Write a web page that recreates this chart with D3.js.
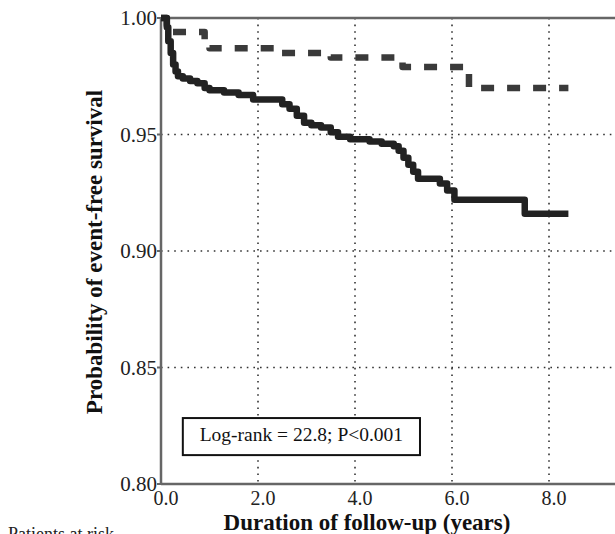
<!DOCTYPE html>
<html>
<head>
<meta charset="utf-8">
<script src="https://cdn.jsdelivr.net/npm/d3@7"></script>
<style>
  body { margin: 0; background: #fff; }
  svg { display: block; font-family: "Liberation Serif", "Times New Roman", serif; }
</style>
</head>
<body>
<svg width="615" height="534"></svg>
<script>
const width = 615, height = 534;
const svg = d3.select("svg");

// Kaplan-Meier steps
const solidTimes = [0, 0.12, 0.15, 0.2, 0.25, 0.3, 0.35, 0.45, 0.6, 0.75, 0.9, 1.0, 1.3, 1.6, 1.9, 2.5, 2.65, 2.8, 2.95, 3.1, 3.3, 3.5, 3.65, 3.9, 4.3, 4.55, 4.8, 4.9, 5.0, 5.1, 5.2, 5.3, 5.75, 5.9, 6.05, 7.5, 8.4];
const solidSurv  = [1.0, 0.996, 0.99, 0.985, 0.98, 0.977, 0.975, 0.974, 0.973, 0.972, 0.970, 0.969, 0.968, 0.967, 0.965, 0.963, 0.961, 0.958, 0.955, 0.954, 0.953, 0.951, 0.949, 0.948, 0.947, 0.946, 0.945, 0.943, 0.940, 0.937, 0.934, 0.931, 0.929, 0.926, 0.922, 0.916, 0.916];

const dashTimes = [0, 0.12, 0.2, 0.9, 1.0, 2.35, 3.5, 4.98, 6.35, 8.4];
const dashSurv  = [1.0, 0.997, 0.994, 0.990, 0.987, 0.985, 0.983, 0.979, 0.970, 0.970];

const xTicks = [0, 2, 4, 6, 8];
const yTicks = [0.80, 0.85, 0.90, 0.95, 1.00];
const gridX = [2, 4, 6, 8];
const gridY = [0.85, 0.90, 0.95];

const x = d3.scaleLinear().domain([0, 9.6]).range([161, 161 + 9.6 * 48.5]);
const y = d3.scaleLinear().domain([0.80, 1.00]).range([484, 18]);

// dotted grid
svg.append("g").selectAll("line.gx").data(gridX).enter().append("line")
    .attr("x1", d => x(d)).attr("x2", d => x(d))
    .attr("y1", y(1.0)).attr("y2", y(0.80))
    .attr("stroke", "#333").attr("stroke-width", 1.6).attr("stroke-dasharray", "1.6,5");
svg.append("g").selectAll("line.gy").data(gridY).enter().append("line")
    .attr("x1", x(0)).attr("x2", width)
    .attr("y1", d => y(d)).attr("y2", d => y(d))
    .attr("stroke", "#333").attr("stroke-width", 1.6).attr("stroke-dasharray", "1.6,5");

// frame
svg.append("line").attr("x1", x(0)).attr("x2", width).attr("y1", y(1.0)).attr("y2", y(1.0))
    .attr("stroke", "#666").attr("stroke-width", 2.5);
svg.append("line").attr("x1", x(0)).attr("x2", width).attr("y1", y(0.8)).attr("y2", y(0.8))
    .attr("stroke", "#666").attr("stroke-width", 2.5);
svg.append("line").attr("x1", x(0)).attr("x2", x(0)).attr("y1", y(1.0) - 1).attr("y2", y(0.8) + 1)
    .attr("stroke", "#666").attr("stroke-width", 2.5);

// y ticks and labels
svg.append("g").selectAll("line").data(yTicks).enter().append("line")
    .attr("x1", x(0) - 4).attr("x2", x(0)).attr("y1", d => y(d)).attr("y2", d => y(d))
    .attr("stroke", "#666").attr("stroke-width", 2);
svg.append("g").selectAll("text").data(yTicks).enter().append("text")
    .attr("x", 157).attr("y", d => y(d))
    .attr("dy", "0.35em").attr("text-anchor", "end")
    .style("font-size", "21px").attr("fill", "#222")
    .text(d => d3.format(".2f")(d));

// x labels
svg.append("g").selectAll("text").data(xTicks).enter().append("text")
    .attr("x", d => x(d) + 5).attr("y", 505).attr("text-anchor", "middle")
    .style("font-size", "20px").attr("fill", "#222")
    .text(d => d3.format(".1f")(d));

// axis titles
svg.append("text").attr("x", 367).attr("y", 530).attr("text-anchor", "middle")
    .style("font-size", "23px").style("font-weight", "bold").attr("fill", "#111")
    .text("Duration of follow-up (years)");
svg.append("text").attr("transform", "translate(102,252) rotate(-90)").attr("text-anchor", "middle")
    .style("font-size", "23px").style("font-weight", "bold").attr("fill", "#111")
    .text("Probability of event-free survival");

svg.append("text").attr("x", 8).attr("y", 540)
    .style("font-size", "18px").attr("fill", "#222")
    .text("Patients at risk");

// survival curves
const line = d3.line().x(d => x(d[0])).y(d => y(d[1])).curve(d3.curveStepAfter);

svg.append("path").datum(d3.zip(dashTimes, dashSurv))
    .attr("fill", "none").attr("stroke", "#3a3a3a").attr("stroke-width", 6.5)
    .attr("stroke-dasharray", "13,13").attr("stroke-linejoin", "round")
    .attr("d", line);

svg.append("path").datum(d3.zip(solidTimes, solidSurv))
    .attr("fill", "none").attr("stroke", "#222").attr("stroke-width", 6.5)
    .attr("stroke-linejoin", "round")
    .attr("d", line);

// log-rank annotation box
const box = svg.append("g");
box.append("rect")
    .attr("x", x(0.45)).attr("y", y(0.8283))
    .attr("width", x(5.34) - x(0.45)).attr("height", y(0.8124) - y(0.8283))
    .attr("fill", "#fff").attr("stroke", "#111").attr("stroke-width", 2);
box.append("text")
    .attr("x", (x(0.45) + x(5.34)) / 2).attr("y", 441).attr("text-anchor", "middle")
    .style("font-size", "19.5px").attr("fill", "#111")
    .text("Log-rank = 22.8; P<0.001");
</script>
</body>
</html>
